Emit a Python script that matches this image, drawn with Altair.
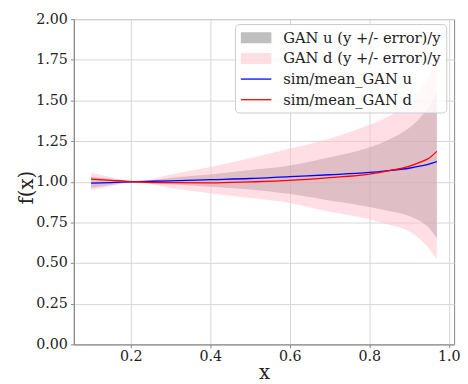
import altair as alt
import pandas as pd

# ---- data ----
x_vals = [0.10, 0.15, 0.21, 0.30, 0.40, 0.50, 0.60, 0.70, 0.80, 0.85, 0.90, 0.93, 0.95, 0.97]
u_mean = [0.991, 0.995, 1.000, 1.006, 1.013, 1.020, 1.032, 1.043, 1.057, 1.069, 1.083, 1.097, 1.108, 1.124]
d_mean = [1.017, 1.009, 1.000, 0.994, 0.993, 0.999, 1.008, 1.025, 1.047, 1.068, 1.095, 1.122, 1.145, 1.187]
u_upper = [1.033, 1.018, 1.000, 1.025, 1.045, 1.072, 1.100, 1.150, 1.210, 1.260, 1.330, 1.400, 1.460, 1.553]
u_lower = [0.963, 0.980, 1.000, 0.985, 0.970, 0.952, 0.925, 0.885, 0.845, 0.820, 0.790, 0.755, 0.715, 0.653]
d_upper = [1.055, 1.028, 1.000, 1.045, 1.090, 1.145, 1.205, 1.265, 1.350, 1.405, 1.485, 1.570, 1.650, 1.770]
d_lower = [0.947, 0.972, 1.000, 0.962, 0.930, 0.900, 0.870, 0.815, 0.770, 0.735, 0.695, 0.640, 0.590, 0.523]

labels = ["GAN u (y +/- error)/y", "GAN d (y +/- error)/y", "sim/mean_GAN u", "sim/mean_GAN d"]
colors = ["#808080", "#ffc0cb", "#0000ff", "#ff0000"]
x_ticks = [0.2, 0.4, 0.6, 0.8, 1.0]
y_ticks = [0.0, 0.25, 0.5, 0.75, 1.0, 1.25, 1.5, 1.75, 2.0]

bands = pd.concat([
    pd.DataFrame({"x": x_vals, "lo": u_lower, "hi": u_upper, "series": labels[0], "order": 0}),
    pd.DataFrame({"x": x_vals, "lo": d_lower, "hi": d_upper, "series": labels[1], "order": 1}),
])
lines = pd.concat([
    pd.DataFrame({"x": x_vals, "y": u_mean, "series": labels[2]}),
    pd.DataFrame({"x": x_vals, "y": d_mean, "series": labels[3]}),
])

FONT = "DejaVu Serif"
TXT = "#222222"

color_scale = alt.Scale(domain=labels, range=colors)
legend = alt.Legend(
    orient="none", legendX=164, legendY=5, title=None,
    symbolSize=256, rowPadding=4, labelOffset=26, padding=5,
    labelFont=FONT, labelFontSize=15, labelColor=TXT, labelLimit=400,
    fillColor="rgba(255,255,255,0.8)", strokeColor="#cccccc", cornerRadius=4,
    symbolType=alt.ExprRef("datum.index < 2 ? 'M-0.92,-0.62H2.8V0.62H-0.92Z' : 'M-1,0H2.875'"),
    symbolStrokeWidth=1.3,
    symbolOpacity=alt.ExprRef("datum.index < 2 ? 0.5 : 1"),
)

x_enc = alt.X("x:Q", scale=alt.Scale(domain=[0.0565, 1.0135], nice=False, zero=False),
              axis=alt.Axis(title="x", values=x_ticks, format=".1f",
                            titleY=35, titleBaseline="alphabetic", labelPadding=2))
y_axis = alt.Axis(title="f(x)", values=y_ticks, format=".2f", labelPadding=3,
                  titleX=-48, titleY=171, titleBaseline="middle", titleAngle=-90)
y_scale = alt.Scale(domain=[0, 2], nice=False)

area = alt.Chart(bands).mark_area(fillOpacity=0.5, interpolate="monotone").encode(
    x=x_enc,
    y=alt.Y("lo:Q", scale=y_scale, axis=y_axis),
    y2="hi:Q",
    color=alt.Color("series:N", scale=color_scale, legend=legend),
    order="order:Q",
    detail="series:N",
)

line = alt.Chart(lines).mark_line(strokeWidth=1.3, interpolate="monotone").encode(
    x="x:Q",
    y="y:Q",
    color=alt.Color("series:N", scale=color_scale, legend=legend),
)

chart = alt.layer(area, line).properties(
    width=387, height=331,
    autosize=alt.AutoSizeParams(type="none"),
    padding={"left": 67, "top": 8, "right": 6, "bottom": 37},
).configure_view(
    stroke="#888888", strokeWidth=1
).configure_axis(
    labelFont=FONT, labelFontSize=14.5, labelColor=TXT,
    titleFont=FONT, titleFontSize=20, titleColor=TXT, titleFontWeight="normal",
    grid=True, gridColor="#d6d6d6", gridWidth=1,
    domainColor="#888888", tickColor="#888888", tickSize=3.5,
)

chart.save("out.html", embed_options={"renderer": "svg", "actions": False})
